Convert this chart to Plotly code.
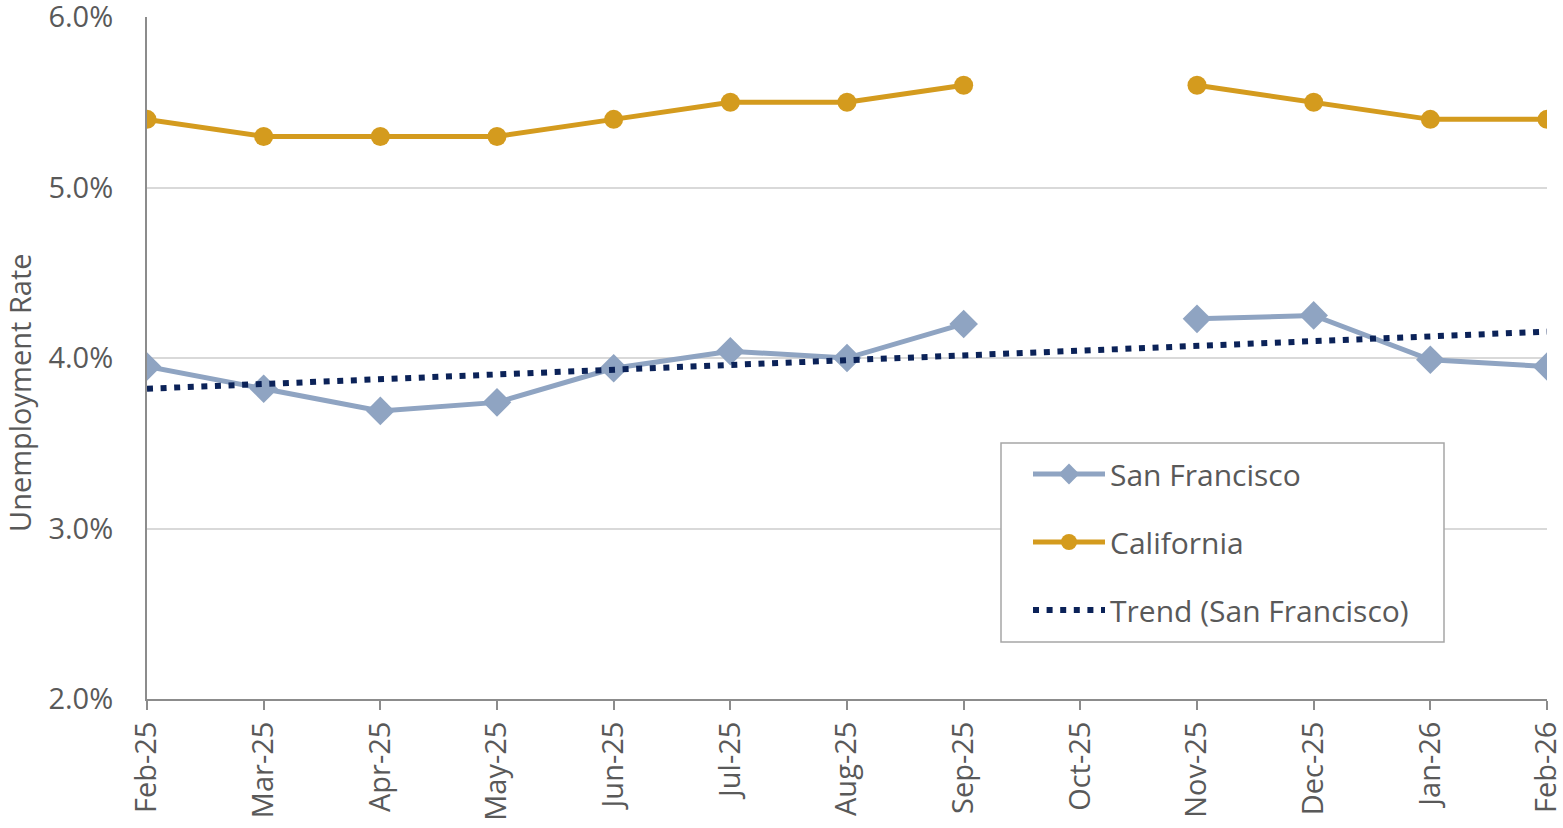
import plotly.graph_objects as go

months = ["Feb-25", "Mar-25", "Apr-25", "May-25", "Jun-25", "Jul-25", "Aug-25",
          "Sep-25", "Oct-25", "Nov-25", "Dec-25", "Jan-26", "Feb-26"]
san_francisco = [3.95, 3.82, 3.69, 3.74, 3.94, 4.04, 4.00, 4.20, None, 4.23, 4.25, 3.99, 3.95]
california = [5.4, 5.3, 5.3, 5.3, 5.4, 5.5, 5.5, 5.6, None, 5.6, 5.5, 5.4, 5.4]
trend_months = ["Feb-25", "Feb-26"]
trend_values = [3.82, 4.155]
y_ticks = [2.0, 3.0, 4.0, 5.0, 6.0]

TEXT = "#595959"
FONT = "Open Sans"
FS = 29

W, H = 1563, 828
L, T, R, B = 147, 17, 16, 129
PW, PH = W - L - R, H - T - B


def px(xs):
    return (xs - L) / PW


def py(ys):
    return (H - B - ys) / PH


fig = go.Figure()
fig.add_trace(go.Scatter(
    x=months, y=san_francisco, name="San Francisco", mode="lines+markers",
    line=dict(color="#8FA4C2", width=5), marker=dict(symbol="diamond", size=22, color="#8FA4C2"),
    connectgaps=False, legendgroup="a"))
fig.add_trace(go.Scatter(
    x=months, y=california, name="California", mode="lines+markers",
    line=dict(color="#D49B1E", width=5), marker=dict(symbol="circle", size=19, color="#D49B1E"),
    connectgaps=False, legendgroup="b"))
fig.add_trace(go.Scatter(
    x=trend_months, y=trend_values, name="Trend (San Francisco)", mode="lines",
    line=dict(color="#0B2258", width=6, dash="6px,7.6px"), legendgroup="c"))

fig.update_layout(
    width=W, height=H,
    margin=dict(l=L, r=R, t=T, b=B),
    paper_bgcolor="white", plot_bgcolor="white",
    font=dict(family=FONT, color=TEXT, size=FS),
    showlegend=True,
    legend=dict(
        x=px(1028), y=py(448), xanchor="left", yanchor="top",
        borderwidth=0, bgcolor="rgba(0,0,0,0)",
        font=dict(size=30, color=TEXT, family=FONT),
        traceorder="grouped", tracegroupgap=26, itemwidth=72,
    ),
    shapes=[dict(
        type="rect", xref="paper", yref="paper",
        x0=px(1001), x1=px(1444), y0=py(642), y1=py(443),
        line=dict(color="#A6A6A6", width=1.5), fillcolor="white", layer="above")],
    xaxis=dict(
        type="category", categoryorder="array", categoryarray=months,
        range=[0, len(months) - 1], automargin=False,
        showline=True, linecolor="#8C8C8C", linewidth=2,
        ticks="outside", ticklen=9, tickcolor="#8C8C8C", tickwidth=2,
        tickangle=-90, tickfont=dict(size=FS, color=TEXT), ticklabeloverflow="allow",
        showgrid=False, zeroline=False,
    ),
    yaxis=dict(
        range=[2.0, 6.0005], tickmode="array", tickvals=y_ticks,
        ticktext=[f"{v:.1f}%" for v in y_ticks], automargin=False,
        showline=True, linecolor="#8C8C8C", linewidth=2,
        showgrid=True, gridcolor="#D9D9D9", gridwidth=2,
        ticks="", ticklabelstandoff=26, tickfont=dict(size=FS, color=TEXT), zeroline=False,
        ticklabeloverflow="allow",
    ),
    annotations=[dict(
        text="Unemployment Rate", xref="paper", yref="paper",
        x=px(20), y=py(392), xanchor="center", yanchor="middle",
        textangle=-90, showarrow=False, font=dict(size=FS, color=TEXT, family=FONT))],
)

fig.write_html("out.html", config={"displayModeBar": False},
               post_script="document.body.style.margin='0';")
